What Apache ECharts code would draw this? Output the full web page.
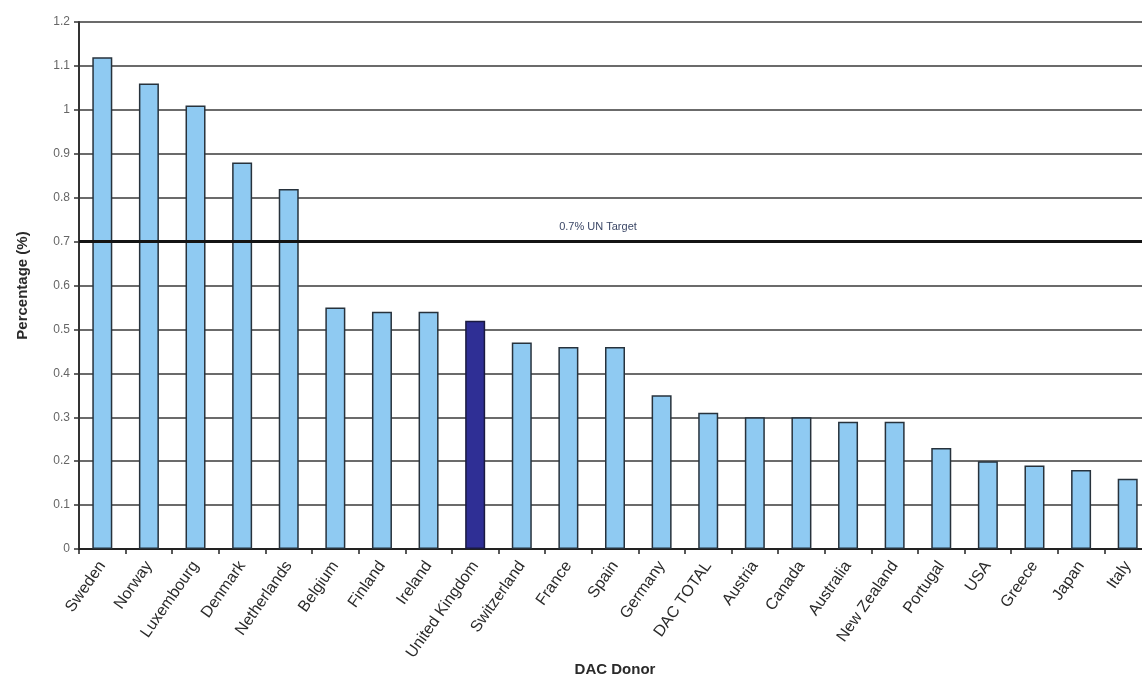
<!DOCTYPE html>
<html>
<head>
<meta charset="utf-8">
<script src="https://cdn.jsdelivr.net/npm/echarts@6/dist/echarts.min.js"></script>
<style>
  html, body { margin: 0; padding: 0; background: #fff; }
  #chart { width: 1142px; height: 681px; }
</style>
</head>
<body>
<div id="chart"></div>
<script>
// ODA as a share of GNI by DAC donor
const donors = ['Sweden', 'Norway', 'Luxembourg', 'Denmark', 'Netherlands', 'Belgium', 'Finland', 'Ireland',
  'United Kingdom', 'Switzerland', 'France', 'Spain', 'Germany', 'DAC TOTAL', 'Austria', 'Canada',
  'Australia', 'New Zealand', 'Portugal', 'USA', 'Greece', 'Japan', 'Italy'];
const percentages = [1.12, 1.06, 1.01, 0.88, 0.82, 0.55, 0.54, 0.54,
  0.52, 0.47, 0.46, 0.46, 0.35, 0.31, 0.30, 0.30,
  0.29, 0.29, 0.23, 0.20, 0.19, 0.18, 0.16];
const highlighted = 'United Kingdom';
const unTarget = 0.7;
const unTargetLabel = '0.7% UN Target';
const yTicks = [0, 0.1, 0.2, 0.3, 0.4, 0.5, 0.6, 0.7, 0.8, 0.9, 1, 1.1, 1.2];

const FONT = '"Liberation Sans", Arial, sans-serif';

const chart = echarts.init(document.getElementById('chart'));
chart.setOption({
  backgroundColor: '#ffffff',
  animation: false,
  grid: { left: 79, top: 22, width: 1072, height: 527, outerBoundsMode: 'none', containLabel: false },
  xAxis: {
    type: 'category',
    data: donors,
    name: 'DAC Donor',
    nameLocation: 'middle',
    nameGap: 113,
    nameMoveOverlap: false,
    nameTextStyle: { fontFamily: FONT, fontSize: 15, fontWeight: 'bold', color: '#2a2a2a' },
    axisLine: { lineStyle: { color: '#222', width: 2 } },
    axisTick: { show: true, length: 5, lineStyle: { color: '#222', width: 1.5 } },
    axisLabel: { rotate: 55, fontFamily: FONT, fontSize: 16, color: '#2a2a2a', margin: 14, interval: 0 }
  },
  yAxis: {
    type: 'value',
    min: 0,
    max: 1.2,
    interval: 0.1,
    name: 'Percentage (%)',
    nameLocation: 'middle',
    nameGap: 49,
    nameTextStyle: { fontFamily: FONT, fontSize: 15, fontWeight: 'bold', color: '#2a2a2a' },
    axisLine: { show: true, lineStyle: { color: '#333', width: 2 } },
    axisTick: { show: true, length: 5, lineStyle: { color: '#333', width: 1.5 } },
    axisLabel: {
      fontFamily: FONT, fontSize: 12, color: '#666', margin: 9,
      formatter: v => {
        const t = yTicks.find(x => Math.abs(x - v) < 1e-6);
        return t === undefined ? '' : String(t);
      }
    },
    splitLine: { show: true, lineStyle: { color: '#3a3a3a', width: 1.6 } }
  },
  series: [{
    type: 'bar',
    barWidth: 20,
    data: percentages.map((v, i) => ({
      value: v,
      itemStyle: donors[i] === highlighted
        ? { color: '#2f2f95', borderColor: '#1a1a40', borderWidth: 1.5 }
        : { color: '#8fcaf2', borderColor: '#27323c', borderWidth: 1.5 }
    })),
    markLine: {
      silent: true,
      symbol: 'none',
      z: 10,
      lineStyle: { color: '#141414', width: 3, type: 'solid' },
      label: {
        show: true,
        position: 'insideMiddleTop',
        formatter: unTargetLabel,
        fontFamily: FONT,
        fontSize: 11,
        color: '#3b4766',
        distance: 9,
        padding: [0, 34, 0, 0]
      },
      data: [{ yAxis: unTarget }]
    }
  }]
});
</script>
</body>
</html>
